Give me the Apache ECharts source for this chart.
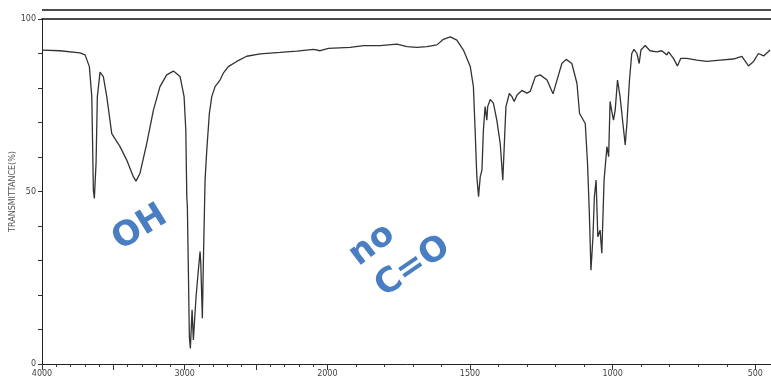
<!DOCTYPE html>
<html>
<head>
<meta charset="utf-8">
<script src="https://cdn.jsdelivr.net/npm/echarts@6/dist/echarts.min.js"></script>
<style>
  html, body { margin: 0; padding: 0; background: #fff; }
  #chart { width: 771px; height: 381px; }
</style>
</head>
<body>
<div id="chart"></div>
<script>
// IR spectrum: wavenumber (cm-1) vs transmittance (%)
const wavenumbers = [
  4000, 3874, 3734, 3698, 3668, 3651, 3647, 3640, 3633, 3621, 3612, 3593, 3570, 3546,
  3511, 3453, 3406, 3360, 3341, 3313, 3266, 3219, 3173, 3126, 3079, 3032, 3004, 2992,
  2985, 2981, 2974, 2967, 2960, 2948, 2939, 2929, 2920, 2904, 2892, 2887, 2876, 2869,
  2857, 2845, 2827, 2810, 2787, 2752, 2729, 2694, 2635, 2565, 2471, 2331, 2214, 2097,
  2050, 1996, 1920, 1873, 1815, 1756, 1721, 1686, 1651, 1616, 1593, 1569, 1546, 1523,
  1499, 1488, 1482, 1476, 1470, 1464, 1458, 1453, 1447, 1441, 1438, 1429, 1418, 1406,
  1394, 1385, 1380, 1374, 1362, 1353, 1345, 1335, 1318, 1301, 1289, 1271, 1254, 1230,
  1209, 1195, 1178, 1163, 1143, 1125, 1116, 1096, 1088, 1082, 1076, 1069, 1064, 1058,
  1052, 1044, 1038, 1030, 1020, 1014, 1009, 1003, 997, 991, 983, 974, 964, 956,
  950, 941, 933, 925, 915, 907, 901, 886, 869, 845, 828, 810, 804, 787,
  773, 761, 740, 705, 670, 623, 577, 547, 524, 506, 489, 471, 448
];
const transmittance = [
  91.0, 90.8, 90.2, 89.6, 86.2, 77.5, 67.8, 50.4, 48.0, 58.3, 77.5, 84.6, 83.3, 77.5,
  66.8, 63.0, 59.1, 54.3, 53.0, 55.3, 63.9, 73.6, 80.4, 83.8, 84.9, 83.3, 77.5, 67.8,
  48.5, 45.6, 27.2, 7.9, 4.5, 15.7, 7.0, 13.7, 19.5, 27.2, 32.6, 29.2, 13.3, 29.2,
  53.3, 62.0, 72.6, 77.5, 80.4, 82.3, 84.3, 86.2, 87.7, 89.2, 89.9, 90.3, 90.7, 91.2,
  90.8, 91.5, 91.8, 92.3, 92.3, 92.7, 92.0, 91.8, 92.0, 92.5, 94.1, 94.8, 93.9, 91.0,
  86.2, 80.4, 67.8, 54.3, 48.5, 54.3, 56.2, 67.8, 74.6, 70.7, 74.6, 76.7, 75.6, 70.7,
  63.9, 53.3, 63.0, 74.6, 78.4, 77.5, 76.1, 78.0, 79.3, 78.5, 79.0, 83.3, 83.8, 82.3,
  78.3, 82.3, 87.1, 88.3, 87.1, 81.3, 72.6, 69.7, 58.1, 44.6, 27.2, 36.9, 48.5, 53.3,
  36.9, 38.8, 32.1, 53.3, 63.0, 60.1, 76.1, 73.2, 70.7, 73.6, 82.3, 77.5, 69.7, 63.5,
  69.7, 82.3, 90.0, 91.2, 90.0, 87.1, 91.0, 92.3, 90.8, 90.5, 90.8, 89.6, 90.5, 88.6,
  86.4, 88.6, 88.6, 88.1, 87.7, 88.1, 88.4, 89.2, 86.4, 87.7, 90.0, 89.3, 91.0
];
const xLabels = [4000, 3000, 2000, 1500, 1000, 500];
const xMajorTicks = [3500, 2500];
const yLabels = [0, 50, 100];

// the scale changes at 2000 cm-1: 1000 cm-1 per unit above, 500 cm-1 per unit below
function toAxis(w) {
  return w >= 2000 ? (4000 - w) / 1000 : 2 + (2000 - w) / 500;
}
function fromAxis(t) {
  return t <= 2 ? 4000 - t * 1000 : 2000 - (t - 2) * 500;
}

const minorTicks = [];
for (let w = 4000; w >= 500; w -= 100) minorTicks.push(toAxis(w));
const labelPos = xLabels.map(toAxis);
const majorPos = xLabels.concat(xMajorTicks).map(toAxis);
const xMax = toAxis(445);

const chart = echarts.init(document.getElementById('chart'));
const labelFont = { fontFamily: 'DejaVu Sans', fontSize: 8, color: '#444' };

function handText(text, x, y, rot) {
  return {
    type: 'text', x: x, y: y, rotation: rot,
    style: {
      text: text, fill: '#4a7ec2', fontFamily: 'DejaVu Sans', fontWeight: 'bold',
      fontSize: 34, align: 'center', verticalAlign: 'middle'
    }
  };
}

chart.setOption({
  animation: false,
  grid: { left: 42, right: 0, top: 19, bottom: 17, outerBoundsMode: 'none', containLabel: false },
  xAxis: [
    {
      type: 'value', min: 0, max: xMax,
      axisLine: { lineStyle: { color: '#222', width: 1 } },
      axisTick: { customValues: minorTicks, length: 3, lineStyle: { color: '#333' } },
      axisLabel: Object.assign({
        customValues: labelPos, margin: 6,
        formatter: v => String(Math.round(fromAxis(v)))
      }, labelFont),
      splitLine: { show: false }
    },
    {
      type: 'value', min: 0, max: xMax, position: 'bottom',
      axisLine: { show: false },
      axisTick: { customValues: majorPos, length: 6, lineStyle: { color: '#333' } },
      axisLabel: { show: false },
      splitLine: { show: false }
    },
    {
      type: 'value', min: 0, max: xMax, position: 'top',
      axisLine: { lineStyle: { color: '#111', width: 1.5 } },
      axisTick: { show: false },
      axisLabel: { show: false },
      splitLine: { show: false }
    }
  ],
  yAxis: {
    type: 'value', min: 0, max: 100, interval: 10,
    name: 'TRANSMITTANCE(%)', nameLocation: 'middle', nameGap: 25, nameRotate: 90,
    nameMoveOverlap: false,
    nameTextStyle: { fontFamily: 'DejaVu Sans', fontSize: 8, color: '#555' },
    axisLine: { show: true, lineStyle: { color: '#222', width: 1 } },
    axisTick: { show: true, length: 4, lineStyle: { color: '#333' } },
    axisLabel: Object.assign({
      margin: 6,
      formatter: v => (yLabels.indexOf(v) >= 0 ? String(v) : '')
    }, labelFont),
    splitLine: { show: false }
  },
  graphic: [
    { type: 'line', shape: { x1: 42, y1: 10, x2: 771, y2: 10 }, style: { stroke: '#111', lineWidth: 1.5 } },
    handText('OH', 140, 228, 0.55),
    handText('no', 372, 245, 0.65),
    handText('C=O', 413, 267, 0.6)
  ],
  series: [{
    type: 'line',
    xAxisIndex: 0,
    data: wavenumbers.map((w, i) => [toAxis(w), transmittance[i]]),
    showSymbol: false,
    lineStyle: { color: '#333', width: 1.3 }
  }]
});
</script>
</body>
</html>
